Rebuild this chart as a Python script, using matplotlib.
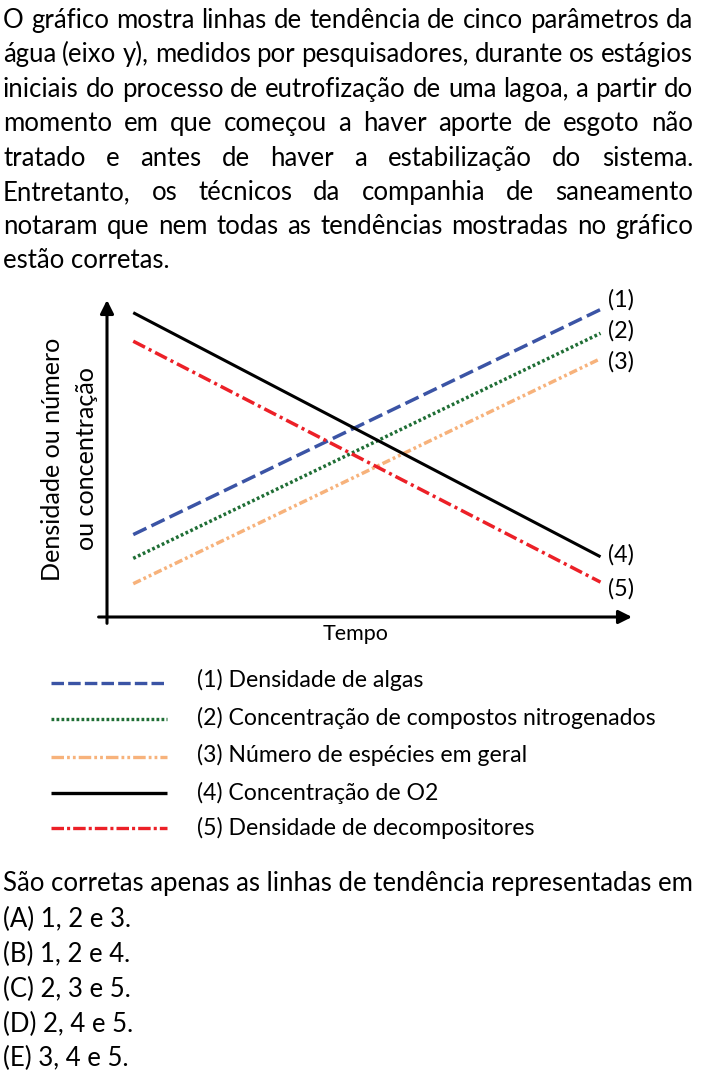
import matplotlib
matplotlib.use('Agg')
import matplotlib.pyplot as plt
from matplotlib.lines import Line2D

plt.rcParams['font.family'] = ['Lato', 'DejaVu Sans']
plt.rcParams['lines.scale_dashes'] = False

# ---------------- data ----------------
question_lines = [
    "O gráfico mostra linhas de tendência de cinco parâmetros da",
    "água (eixo y), medidos por pesquisadores, durante os estágios",
    "iniciais do processo de eutrofização de uma lagoa, a partir do",
    "momento em que começou a haver aporte de esgoto não",
    "tratado e antes de haver a estabilização do sistema.",
    "Entretanto, os técnicos da companhia de saneamento",
    "notaram que nem todas as tendências mostradas no gráfico",
]
question_last = "estão corretas."
prompt = "São corretas apenas as linhas de tendência representadas em"
options = ["(A) 1, 2 e 3.", "(B) 1, 2 e 4.", "(C) 2, 3 e 5.", "(D) 2, 4 e 5.", "(E) 3, 4 e 5."]

series_tags = ["(1)", "(2)", "(3)", "(4)", "(5)"]
series_labels = [
    "(1) Densidade de algas",
    "(2) Concentração de compostos nitrogenados",
    "(3) Número de espécies em geral",
    "(4) Concentração de O2",
    "(5) Densidade de decompositores",
]
time = [0.5, 9.4]
algas = [2.6, 9.7]
nitrogenados = [1.85, 8.95]
especies = [1.05, 8.15]
oxigenio = [9.6, 1.9]
decompositores = [8.7, 1.1]
x_label = "Tempo"
y_label_lines = ["Densidade ou número", "ou concentração"]

# ---------------- styles ----------------
colors = ['#3B54A5', '#1F6E35', '#F7B27B', '#000000', '#EC2027']
chart_dashes = [(10.5, 4.0), (2.0, 1.8), (6.0, 2.2, 2.0, 2.2, 2.0, 2.2), None, (9.5, 3.0, 2.2, 3.0)]
legend_dashes = [(9.0, 3.0), (2.0, 1.6), (9.0, 2.2, 2.0, 2.2, 2.0, 2.2), None, (9.0, 2.2, 2.2, 2.2)]
chart_lw = [2.5, 2.5, 2.5, 2.2, 2.5]

W, H = 715, 1080
fig = plt.figure(figsize=(W / 100, H / 100), dpi=100)
ov = fig.add_axes([0, 0, 1, 1])
ov.set_xlim(0, W)
ov.set_ylim(H, 0)
ov.axis('off')
r = fig.canvas.get_renderer()


def width(s, fs):
    t = ov.text(0, 0, s, fontsize=fs)
    w = t.get_window_extent(r).width
    t.remove()
    return w


def fit(s, target):
    return 20 * target / width(s, 20)


# ---------------- question text (justified) ----------------
left, right = 3, 693
fs_q = fit(prompt, right - left)
q_base = [28, 62, 97, 131, 166, 200, 234]
for line, base in zip(question_lines, q_base):
    words = line.split(' ')
    ws = [width(w, fs_q) for w in words]
    gap = (right - left - sum(ws)) / (len(words) - 1)
    x = left
    for w, wd in zip(words, ws):
        ov.text(x, base, w, fontsize=fs_q, va='baseline', ha='left')
        x += wd + gap
ov.text(left, 268, question_last, fontsize=fs_q, va='baseline', ha='left')

ov.text(left, 891, prompt, fontsize=fs_q, va='baseline', ha='left')
for opt, base in zip(options, [927, 962, 997, 1032, 1066]):
    ov.text(left, base, opt, fontsize=fs_q, va='baseline', ha='left')

# ---------------- chart ----------------
ax = fig.add_axes([107 / W, 1 - 617 / H, 525 / W, 317 / H])
ax.set_xlim(0, 10)
ax.set_ylim(0, 10)
ax.axis('off')

series = [algas, nitrogenados, especies, oxigenio, decompositores]
for vals, c, d, lw in zip(series, colors, chart_dashes, chart_lw):
    ln, = ax.plot(time, vals, color=c, lw=lw, solid_capstyle='butt', dash_capstyle='butt')
    if d is not None:
        ln.set_dashes(d)

arrow = dict(arrowstyle='-|>', lw=2.2, color='black', mutation_scale=20, shrinkA=0, shrinkB=0)
ax.annotate('', xy=(0, 1.0), xytext=(0, -0.02), xycoords='axes fraction',
            textcoords='axes fraction', arrowprops=arrow, annotation_clip=False)
ax.annotate('', xy=(1.0, 0), xytext=(-0.016, 0), xycoords='axes fraction',
            textcoords='axes fraction', arrowprops=arrow, annotation_clip=False)

fs_tag = fit("(1)", 26)
for tag, y in zip(series_tags, [300, 331, 362, 555, 589]):
    ov.text(608, y, tag, fontsize=fs_tag, va='center', ha='left')

fs_t = fit(x_label, 66)
ov.text(356, 634, x_label, fontsize=fs_t, va='center', ha='center')

fs_y = fit(y_label_lines[0], 245)
ov.text(53, 459, y_label_lines[0], fontsize=fs_y, rotation=90, va='center', ha='center')
ov.text(87, 459, y_label_lines[1], fontsize=fs_y, rotation=90, va='center', ha='center')

# ---------------- legend ----------------
fs_l = fit(series_labels[1], 458)
key_y = [683, 719, 757, 793, 828]
txt_base = [687, 725, 762, 800, 835]
for lab, c, d, ky, tb in zip(series_labels, colors, legend_dashes, key_y, txt_base):
    ln = Line2D([51, 167], [ky, ky], color=c, lw=2.4, solid_capstyle='butt', dash_capstyle='butt')
    if d is not None:
        ln.set_dashes(d)
    ov.add_line(ln)
    ov.text(197, tb, lab, fontsize=fs_l, va='baseline', ha='left')

fig.savefig('out.png', dpi=100)
